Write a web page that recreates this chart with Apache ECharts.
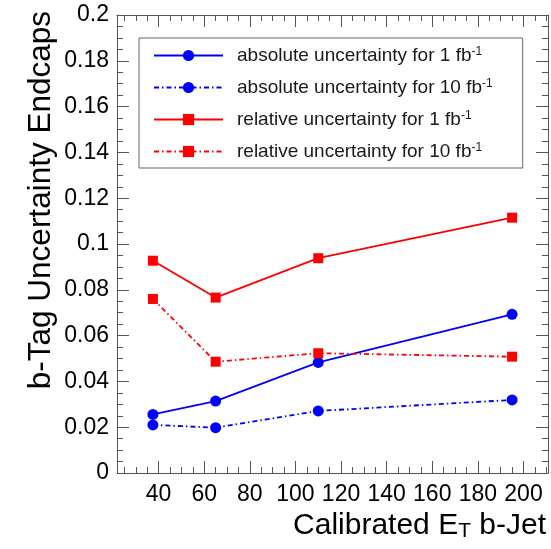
<!DOCTYPE html>
<html>
<head>
<meta charset="utf-8">
<script src="https://cdn.jsdelivr.net/npm/echarts@6/dist/echarts.min.js"></script>
<style>
  html, body { margin: 0; padding: 0; background: #fff; }
  #chart { width: 551px; height: 549px; }
</style>
</head>
<body>
<div id="chart"></div>
<script>
// Calibrated jet E_T bin centres (GeV)
var jetEt = [37.5, 65, 110, 195];

// b-tag uncertainty in the endcaps
var absUnc1fb  = [0.0256, 0.0314, 0.0483, 0.0693];
var absUnc10fb = [0.0210, 0.0198, 0.0271, 0.0319];
var relUnc1fb  = [0.0927, 0.0766, 0.0938, 0.1115];
var relUnc10fb = [0.0760, 0.0486, 0.0523, 0.0508];

var seriesNames = [
  'absolute uncertainty for 1 fb-1',
  'absolute uncertainty for 10 fb-1',
  'relative uncertainty for 1 fb-1',
  'relative uncertainty for 10 fb-1'
];

// Axis ticks
var xMajorTicks = [40, 60, 80, 100, 120, 140, 160, 180, 200];
var xMinorTicks = [25, 30, 35, 45, 50, 55, 65, 70, 75, 85, 90, 95, 105, 110, 115,
                   125, 130, 135, 145, 150, 155, 165, 170, 175, 185, 190, 195, 205, 210];
var xRange = [21.75, 210.75];
var yRange = [0, 0.2];

var FONT = '"Liberation Sans", Arial, Helvetica, sans-serif';
var FRAME = '#555';

function pairs(xs, ys) {
  return xs.map(function (x, i) { return [x, ys[i]]; });
}

function xAxisDef(position, ticks, len, withLabels, withLine) {
  return {
    type: 'value', position: position, min: xRange[0], max: xRange[1],
    splitLine: { show: false },
    axisLine: { show: withLine, lineStyle: { color: FRAME, width: 1 } },
    axisTick: { show: true, inside: true, length: len, customValues: ticks,
                lineStyle: { color: FRAME, width: 1 } },
    axisLabel: withLabels ? {
      show: true, customValues: xMajorTicks, margin: 10,
      fontFamily: FONT, fontSize: 23, color: '#000'
    } : { show: false }
  };
}

function yAxisDef(position, withLabels) {
  return {
    type: 'value', position: position, min: yRange[0], max: yRange[1], interval: 0.02,
    splitLine: { show: false },
    axisLine: { show: true, lineStyle: { color: FRAME, width: 1 } },
    axisTick: { show: true, inside: true, length: 12, lineStyle: { color: FRAME, width: 1 } },
    minorTick: { show: true, splitNumber: 4, length: 6, lineStyle: { color: FRAME, width: 1 } },
    axisLabel: withLabels ? {
      show: true, margin: 8, fontFamily: FONT, fontSize: 23, color: '#000',
      formatter: function (v) { return String(+v.toFixed(3)); }
    } : { show: false }
  };
}

var solid = 'solid';
var dashDot = [5, 3, 1.5, 3];

function lineSeries(name, ys, color, lineType, symbol, size) {
  return {
    name: name, type: 'line', xAxisIndex: 0, yAxisIndex: 0,
    data: pairs(jetEt, ys),
    symbol: symbol, symbolSize: size,
    lineStyle: { color: color, width: 1.8, type: lineType },
    itemStyle: { color: color },
    emphasis: { disabled: true },
    z: 3
  };
}

var chart = echarts.init(document.getElementById('chart'), null, { renderer: 'canvas' });

chart.setOption({
  animation: false,
  backgroundColor: '#fff',
  grid: { left: 117, right: 3, top: 15, bottom: 76, containLabel: false },
  xAxis: [
    xAxisDef('bottom', xMajorTicks, 12, true, true),
    xAxisDef('bottom', xMinorTicks, 6, false, false),
    xAxisDef('top', xMajorTicks, 12, false, true),
    xAxisDef('top', xMinorTicks, 6, false, false)
  ],
  yAxis: [yAxisDef('left', true), yAxisDef('right', false)],
  legend: {
    orient: 'vertical', left: 139, top: 38,
    padding: [8, 30, 7, 14],
    itemWidth: 69, itemHeight: 14, itemGap: 13,
    borderColor: '#666', borderWidth: 1,
    selectedMode: false,
    data: seriesNames,
    formatter: function (name) {
      return name.replace(' fb-1', ' fb{sup|-1}');
    },
    textStyle: {
      fontFamily: FONT, fontSize: 19, color: '#1a1a1a', lineHeight: 19,
      padding: [0, 0, 0, 9],
      rich: {
        sup: { fontFamily: FONT, fontSize: 12, lineHeight: 19, verticalAlign: 'top', color: '#1a1a1a' }
      }
    }
  },
  series: [
    lineSeries(seriesNames[0], absUnc1fb, '#0000ff', solid, 'circle', 11),
    lineSeries(seriesNames[1], absUnc10fb, '#0000ff', dashDot, 'circle', 11),
    lineSeries(seriesNames[2], relUnc1fb, '#ff0000', solid, 'rect', 10),
    lineSeries(seriesNames[3], relUnc10fb, '#ff0000', dashDot, 'rect', 10)
  ],
  graphic: [
    {
      type: 'text', x: 546, y: 526,
      style: {
        text: 'Calibrated E{sub|T} b-Jet',
        fontFamily: FONT, fontSize: 30, fill: '#000',
        align: 'right', verticalAlign: 'middle', lineHeight: 32,
        rich: { sub: { fontFamily: FONT, fontSize: 21, lineHeight: 16, verticalAlign: 'bottom', fill: '#000' } }
      }
    },
    {
      type: 'text', x: 41, y: 11, rotation: Math.PI / 2,
      style: {
        text: 'b-Tag Uncertainty Endcaps',
        fontFamily: FONT, fontSize: 31.5, fill: '#000',
        align: 'right', verticalAlign: 'middle'
      }
    }
  ]
});
</script>
</body>
</html>
